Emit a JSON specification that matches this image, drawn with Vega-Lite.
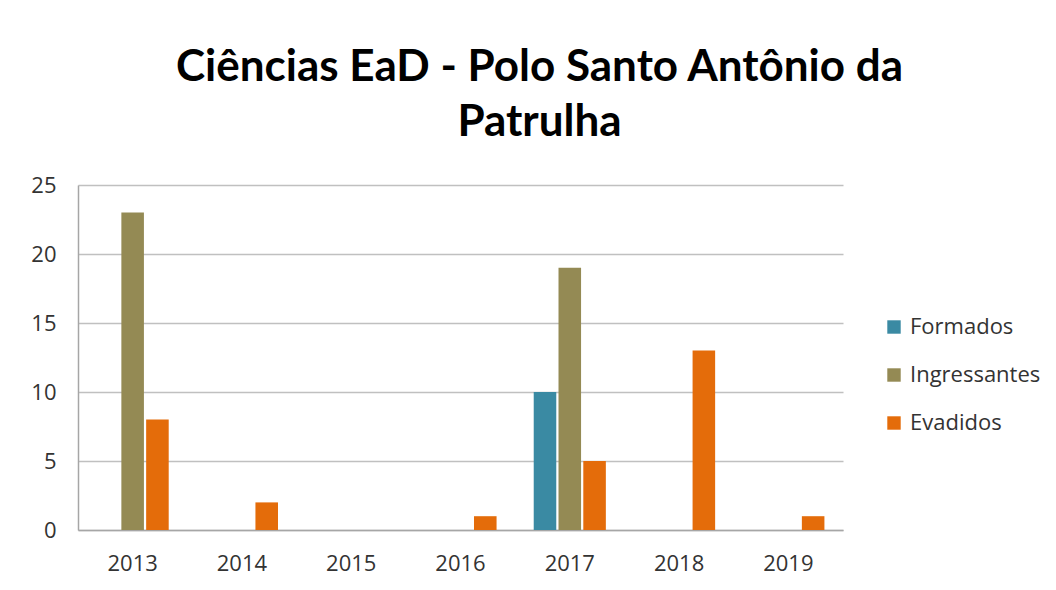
{
  "$schema": "https://vega.github.io/schema/vega-lite/v6.json",
  "width": 765,
  "height": 345,
  "autosize": {"type": "none"},
  "padding": {"left": 78, "top": 185, "right": 213, "bottom": 60},
  "background": "white",
  "title": {
    "text": ["Ciências EaD - Polo Santo Antônio da", "Patrulha"],
    "font": "Lato",
    "fontWeight": "bold",
    "fontSize": 44,
    "lineHeight": 55,
    "anchor": "middle",
    "dx": 79,
    "offset": 29,
    "color": "#000000"
  },
  "data": {
    "values": [
      {"Ano": "2013", "Serie": "Formados", "Valor": 0},
      {"Ano": "2013", "Serie": "Ingressantes", "Valor": 23},
      {"Ano": "2013", "Serie": "Evadidos", "Valor": 8},
      {"Ano": "2014", "Serie": "Formados", "Valor": 0},
      {"Ano": "2014", "Serie": "Ingressantes", "Valor": 0},
      {"Ano": "2014", "Serie": "Evadidos", "Valor": 2},
      {"Ano": "2015", "Serie": "Formados", "Valor": 0},
      {"Ano": "2015", "Serie": "Ingressantes", "Valor": 0},
      {"Ano": "2015", "Serie": "Evadidos", "Valor": 0},
      {"Ano": "2016", "Serie": "Formados", "Valor": 0},
      {"Ano": "2016", "Serie": "Ingressantes", "Valor": 0},
      {"Ano": "2016", "Serie": "Evadidos", "Valor": 1},
      {"Ano": "2017", "Serie": "Formados", "Valor": 10},
      {"Ano": "2017", "Serie": "Ingressantes", "Valor": 19},
      {"Ano": "2017", "Serie": "Evadidos", "Valor": 5},
      {"Ano": "2018", "Serie": "Formados", "Valor": 0},
      {"Ano": "2018", "Serie": "Ingressantes", "Valor": 0},
      {"Ano": "2018", "Serie": "Evadidos", "Valor": 13},
      {"Ano": "2019", "Serie": "Formados", "Valor": 0},
      {"Ano": "2019", "Serie": "Ingressantes", "Valor": 0},
      {"Ano": "2019", "Serie": "Evadidos", "Valor": 1}
    ]
  },
  "mark": {"type": "bar"},
  "encoding": {
    "x": {
      "field": "Ano",
      "type": "nominal",
      "scale": {"paddingInner": 0.34, "paddingOuter": 0.17},
      "axis": {
        "title": null,
        "labelAngle": 0,
        "ticks": false,
        "labelPadding": 23,
        "domainColor": "#A6A6A6",
        "domainWidth": 1.5,
        "labelFont": "Open Sans",
        "labelFontSize": 22,
        "labelColor": "#333333"
      }
    },
    "xOffset": {
      "field": "Serie",
      "type": "nominal",
      "sort": ["Formados", "Ingressantes", "Evadidos"],
      "scale": {"paddingInner": 0.09, "paddingOuter": 0}
    },
    "y": {
      "field": "Valor",
      "type": "quantitative",
      "scale": {"domain": [0, 25]},
      "axis": {
        "title": null,
        "values": [0, 5, 10, 15, 20, 25],
        "ticks": false,
        "labelPadding": 22,
        "domainColor": "#A6A6A6",
        "domainWidth": 1.5,
        "gridColor": "#C0C0C0",
        "gridWidth": 1.5,
        "labelFont": "Open Sans",
        "labelFontSize": 22,
        "labelColor": "#333333"
      }
    },
    "color": {
      "field": "Serie",
      "type": "nominal",
      "sort": ["Formados", "Ingressantes", "Evadidos"],
      "scale": {
        "domain": ["Formados", "Ingressantes", "Evadidos"],
        "range": ["#3A8AA3", "#948A54", "#E46C0A"]
      },
      "legend": {
        "title": null,
        "orient": "none",
        "legendX": 805,
        "legendY": 131,
        "symbolType": "square",
        "symbolSize": 180,
        "symbolStrokeWidth": 0,
        "labelFont": "Open Sans",
        "labelFontSize": 22,
        "labelColor": "#333333",
        "labelOffset": 5,
        "rowPadding": 26
      }
    }
  },
  "config": {"view": {"stroke": null}}
}
